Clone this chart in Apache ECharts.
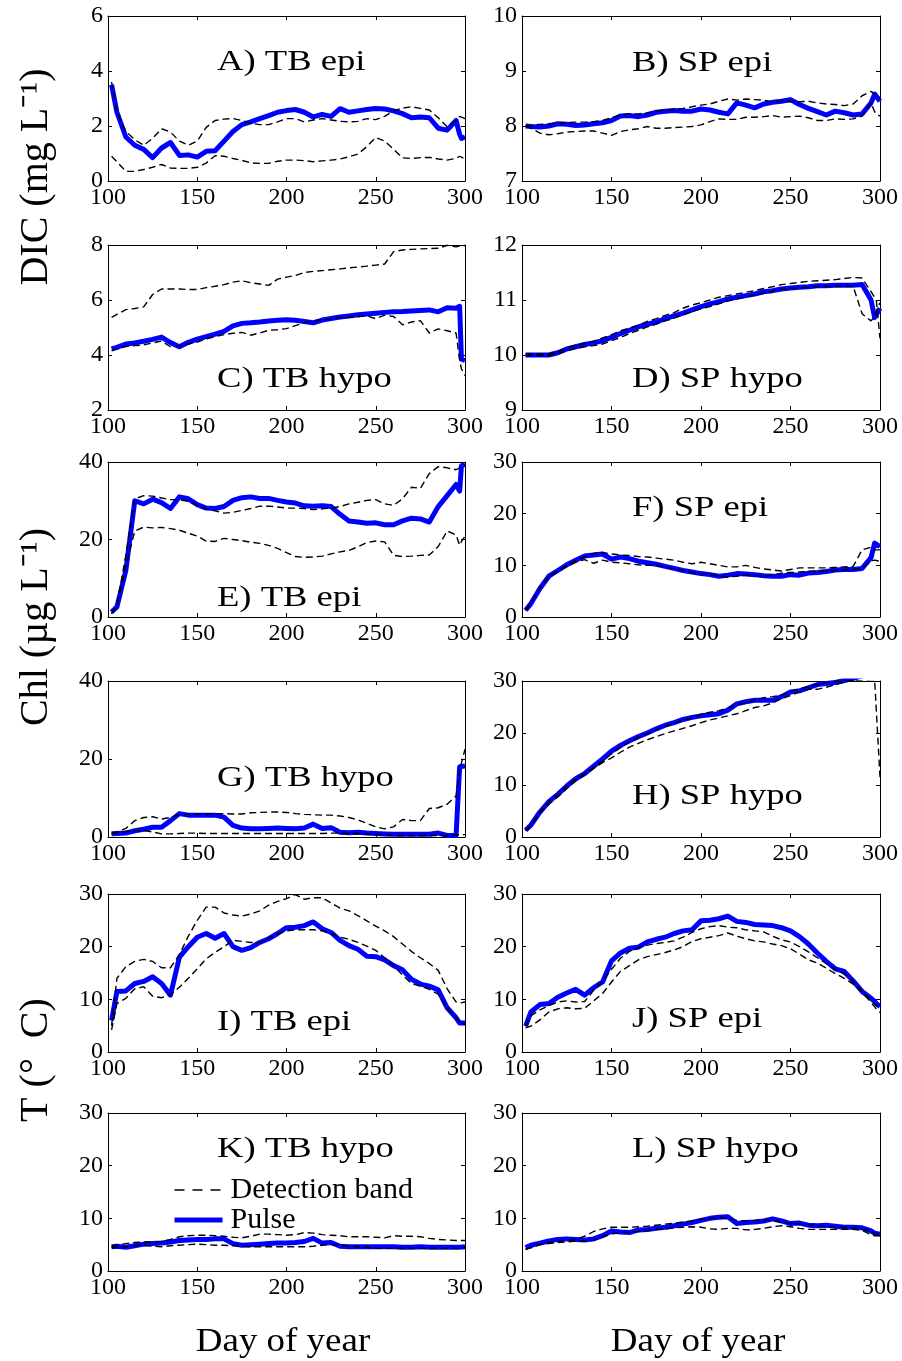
<!DOCTYPE html>
<html>
<head>
<meta charset="utf-8">
<script src="https://cdn.jsdelivr.net/npm/echarts@6/dist/echarts.min.js"></script>
<style>
  html, body { margin: 0; padding: 0; background: #fff; }
  #chart { width: 902px; height: 1361px; }
</style>
</head>
<body>
<div id="chart"></div>
<script>
const FONT = '"Liberation Serif", "Times New Roman", serif';

// day of year, shared by every series
const days = [102, 105, 110, 115, 120, 125, 130, 135, 140, 145, 150, 155, 160, 165, 170, 175, 180, 185, 190, 195,
  200, 205, 210, 215, 220, 225, 230, 235, 240, 245, 250, 255, 260, 265, 270, 275, 280, 285, 290, 295, 297, 298, 300];

// A) TB epi, DIC
const aPulse = [3.5, 2.5, 1.6, 1.3, 1.15, 0.85, 1.2, 1.4, 0.93, 0.95, 0.87, 1.08, 1.1, 1.45, 1.8, 2.05, 2.15, 2.27, 2.38, 2.5,
  2.56, 2.6, 2.5, 2.33, 2.42, 2.35, 2.63, 2.5, 2.55, 2.6, 2.64, 2.62, 2.55, 2.45, 2.3, 2.33, 2.3, 1.92, 1.85, 2.2, 1.7, 1.55, 1.6];
const aUpper = [3.6, 2.5, 1.8, 1.5, 1.3, 1.55, 1.9, 1.78, 1.45, 1.3, 1.45, 1.95, 2.2, 2.25, 2.27, 2.2, 2.1, 2.05, 2.05, 2.15,
  2.27, 2.27, 2.15, 2.22, 2.27, 2.22, 2.17, 2.15, 2.17, 2.27, 2.23, 2.35, 2.55, 2.65, 2.7, 2.64, 2.58, 2.3, 1.97, 2.2, 2.35, 2.4, 2.27];
const aLower = [0.9, 0.7, 0.35, 0.35, 0.42, 0.5, 0.6, 0.47, 0.46, 0.46, 0.5, 0.65, 0.92, 0.9, 0.82, 0.75, 0.66, 0.64, 0.64, 0.72,
  0.76, 0.76, 0.74, 0.7, 0.73, 0.76, 0.8, 0.88, 0.98, 1.25, 1.58, 1.45, 1.15, 0.84, 0.82, 0.85, 0.86, 0.8, 0.76, 0.82, 0.9, 0.92, 0.8];

// B) SP epi, DIC
const bPulse = [8.0, 7.99, 7.98, 8.0, 8.04, 8.03, 8.01, 8.02, 8.04, 8.06, 8.1, 8.18, 8.19, 8.17, 8.2, 8.25, 8.27, 8.28, 8.27, 8.27,
  8.31, 8.29, 8.25, 8.22, 8.42, 8.38, 8.33, 8.4, 8.43, 8.45, 8.48, 8.39, 8.32, 8.26, 8.2, 8.27, 8.24, 8.2, 8.22, 8.42, 8.58, 8.55, 8.45];
const bUpper = [8.0, 8.01, 8.03, 8.04, 8.05, 8.06, 8.07, 8.07, 8.08, 8.1, 8.15, 8.2, 8.22, 8.22, 8.24, 8.27, 8.29, 8.3, 8.32, 8.35,
  8.38, 8.4, 8.45, 8.49, 8.47, 8.49, 8.48, 8.47, 8.44, 8.45, 8.44, 8.44, 8.45, 8.42, 8.4, 8.39, 8.37, 8.4, 8.55, 8.63, 8.58, 8.55, 8.52];
const bLower = [8.0, 7.96, 7.87, 7.84, 7.86, 7.89, 7.9, 7.91, 7.91, 7.87, 7.83, 7.9, 7.93, 7.95, 7.99, 7.96, 7.96, 7.97, 7.98, 7.99,
  8.02, 8.08, 8.13, 8.12, 8.12, 8.16, 8.16, 8.17, 8.19, 8.16, 8.17, 8.18, 8.15, 8.1, 8.1, 8.13, 8.12, 8.13, 8.18, 8.42, 8.26, 8.22, 8.18];

// C) TB hypo, DIC
const cPulse = [4.22, 4.28, 4.4, 4.44, 4.5, 4.57, 4.65, 4.45, 4.3, 4.46, 4.58, 4.67, 4.76, 4.86, 5.06, 5.15, 5.17, 5.2, 5.24, 5.26,
  5.28, 5.26, 5.22, 5.17, 5.27, 5.33, 5.38, 5.42, 5.46, 5.49, 5.52, 5.55, 5.57, 5.58, 5.6, 5.62, 5.64, 5.57, 5.72, 5.7, 5.77, 3.85, 3.8];
const cUpper = [5.37, 5.48, 5.65, 5.69, 5.75, 6.2, 6.4, 6.4, 6.4, 6.38, 6.38, 6.45, 6.5, 6.56, 6.65, 6.7, 6.63, 6.58, 6.53, 6.76,
  6.83, 6.89, 7.0, 7.04, 7.07, 7.1, 7.13, 7.17, 7.2, 7.23, 7.27, 7.31, 7.76, 7.82, 7.84, 7.86, 7.87, 7.88, 7.99, 7.93, 7.96, 7.97, 7.98];
const cLower = [4.15, 4.22, 4.31, 4.34, 4.37, 4.44, 4.51, 4.3, 4.33, 4.4, 4.47, 4.58, 4.67, 4.74, 4.79, 4.82, 4.72, 4.8, 4.9, 4.92,
  4.96, 5.07, 5.17, 5.25, 5.28, 5.31, 5.35, 5.37, 5.39, 5.42, 5.32, 5.45, 5.4, 5.1, 5.2, 5.25, 4.8, 4.95, 4.88, 4.8, 3.8, 3.5, 3.25];

// D) SP hypo, DIC
const dPulse = [10.0, 10.0, 10.0, 10.0, 10.04, 10.11, 10.15, 10.19, 10.22, 10.26, 10.32, 10.39, 10.45, 10.51, 10.56, 10.6, 10.66, 10.71, 10.76, 10.82,
  10.88, 10.93, 10.97, 11.02, 11.05, 11.08, 11.11, 11.15, 11.17, 11.2, 11.22, 11.23, 11.24, 11.26, 11.26, 11.27, 11.27, 11.27, 11.28, 11.0, 10.68, 10.65, 10.85];
const dUpper = [10.02, 10.02, 10.02, 10.02, 10.06, 10.13, 10.18, 10.21, 10.25, 10.31, 10.37, 10.44, 10.49, 10.54, 10.61, 10.66, 10.72, 10.77, 10.85, 10.91,
  10.95, 11.0, 11.05, 11.08, 11.11, 11.14, 11.17, 11.21, 11.24, 11.28, 11.3, 11.32, 11.34, 11.35, 11.36, 11.37, 11.39, 11.41, 11.4, 11.15, 11.05, 10.98, 10.3];
const dLower = [9.99, 9.99, 9.99, 9.99, 10.02, 10.08, 10.12, 10.15, 10.17, 10.2, 10.26, 10.32, 10.39, 10.45, 10.51, 10.56, 10.62, 10.67, 10.73, 10.79,
  10.84, 10.88, 10.93, 10.98, 11.02, 11.05, 11.09, 11.12, 11.16, 11.19, 11.21, 11.22, 11.23, 11.24, 11.25, 11.25, 11.25, 11.25, 10.75, 10.62, 10.7, 10.8, 10.95];

// E) TB epi, Chl
const ePulse = [1.3, 2.6, 12, 30, 29.2, 30.4, 29.5, 28, 31, 30.5, 29, 28.1, 28, 28.5, 30.1, 30.8, 31, 30.6, 30.6, 30.1,
  29.7, 29.4, 28.7, 28.6, 28.7, 28.5, 26.5, 24.8, 24.5, 24.2, 24.3, 23.8, 23.8, 24.8, 25.5, 25.3, 24.5, 28.5, 31.3, 34.2, 32.5, 39, 39.4];
const eUpper = [0.9, 3, 16, 30.5, 31.3, 31.2, 30.7, 30.3, 30.3, 29.8, 28.8, 27.9, 27.4, 26.8, 27, 27.5, 28.0, 28.6, 28.6, 28.4,
  28.1, 28.1, 28, 27.7, 27.9, 28.1, 28.5, 29.2, 29.6, 30.1, 30.3, 29.2, 28.8, 30.5, 33.5, 33.2, 37, 38.8, 38.5, 38, 38.5, 38.8, 39];
const eLower = [0.9, 3, 13, 22.2, 23.2, 23, 23.1, 22.8, 22.4, 21.6, 20.9, 19.6, 19.5, 20.3, 20.0, 19.7, 19.3, 19, 18.5, 17.7,
  16.6, 15.6, 15.4, 15.5, 15.7, 16.3, 16.8, 17.2, 18.1, 19.2, 19.6, 19.4, 15.9, 15.6, 15.7, 15.9, 16, 18.2, 22.2, 21.2, 18.5, 19.5, 20.8];

// F) SP epi, Chl
const fPulse = [1.3, 2.6, 5.5, 7.9, 9.0, 10.1, 11.0, 11.8, 12.0, 12.2, 11.2, 11.6, 11.3, 10.8, 10.5, 10.2, 9.8, 9.4, 9.0, 8.7,
  8.4, 8.2, 7.9, 8.1, 8.4, 8.3, 8.2, 8.0, 7.9, 7.9, 8.2, 8.1, 8.5, 8.6, 8.8, 9.1, 9.2, 9.2, 9.4, 11.5, 14.3, 14.0, 13.6];
const fUpper = [1.3, 2.8, 5.6, 7.9, 9.0, 10.0, 10.9, 11.6, 12.3, 12.5, 12.2, 12.0, 11.9, 11.7, 11.6, 11.4, 11.2, 11.0, 10.6, 10.3,
  10.6, 10.3, 10.0, 9.7, 9.7, 10.0, 9.6, 9.3, 9.1, 8.9, 9.2, 9.5, 9.5, 9.5, 9.5, 9.6, 9.7, 9.8, 13.0, 13.5, 13.0, 13.0, 13.0];
const fLower = [1.3, 2.8, 5.6, 7.8, 8.9, 9.8, 10.6, 11.1, 10.4, 11.0, 10.6, 10.5, 10.3, 10.1, 10.0, 10.0, 9.6, 9.3, 9.0, 8.6,
  8.4, 8.2, 7.9, 7.8, 7.9, 8.1, 8.0, 7.9, 8.1, 8.5, 8.6, 8.7, 8.8, 8.9, 8.9, 9.0, 9.1, 9.2, 9.4, 10.9, 11.0, 10.9, 10.8];

// G) TB hypo, Chl
const gPulse = [0.85, 0.9, 1.0, 1.6, 2.0, 2.5, 2.5, 4.2, 6.0, 5.6, 5.6, 5.6, 5.6, 5.1, 3.0, 2.3, 2.1, 2.1, 2.2, 2.3,
  2.2, 2.1, 2.3, 3.3, 2.2, 2.4, 1.2, 1.1, 1.2, 1.0, 0.9, 0.8, 0.7, 0.7, 0.7, 0.7, 0.7, 1.0, 0.4, 0.4, 18.0, 18.2, 18.2];
const gUpper = [0.9, 1.3, 2.2, 4.2, 5.0, 5.2, 4.6, 5.0, 5.7, 5.8, 5.8, 5.9, 6.0, 6.0, 5.9, 5.9, 6.2, 6.3, 6.4, 6.4,
  6.3, 6.0, 5.8, 5.7, 5.6, 5.6, 5.4, 5.0, 4.4, 3.5, 2.6, 2.1, 2.6, 4.5, 4.2, 4.2, 7.3, 7.5, 8.4, 10.5, 17.0, 19.0, 22.5];
const gLower = [0.9, 1.1, 1.4, 1.6, 1.7, 1.3, 0.8, 0.8, 0.9, 1.0, 1.0, 0.9, 0.9, 0.9, 0.9, 0.9, 0.9, 0.9, 0.9, 0.9,
  0.9, 0.9, 0.9, 0.9, 0.9, 1.0, 1.0, 0.9, 0.9, 0.8, 0.7, 0.6, 0.4, 0.4, 0.4, 0.4, 0.4, 0.4, 0.4, 0.5, 0.6, 0.6, 0.6];

// H) SP hypo, Chl
const hPulse = [1.3, 2.3, 4.8, 6.8, 8.2, 9.8, 11.2, 12.2, 13.6, 15.0, 16.5, 17.6, 18.5, 19.3, 20.0, 20.8, 21.5, 22.0, 22.6, 23.0,
  23.3, 23.5, 23.7, 24.4, 25.6, 26.0, 26.3, 26.3, 26.3, 27.0, 27.9, 28.1, 28.7, 29.3, 29.5, 29.7, 30.1, 30.5, 31, 31.5, 31.7, 31.8, 32];
const hUpper = [1.2, 2.3, 4.8, 6.8, 8.3, 9.8, 11.1, 12.2, 13.4, 14.6, 16.0, 17.2, 18.3, 19.1, 19.9, 20.6, 21.3, 21.9, 22.5, 22.9,
  23.6, 24.0, 24.3, 24.8, 25.4, 25.8, 26.3, 26.8, 27.0, 27.3, 28.0, 28.5, 28.9, 29.3, 29.7, 30.0, 30.0, 30.1, 30.2, 30.3, 30.3, 30.3, 11.5];
const hLower = [1.2, 2.2, 4.6, 6.3, 7.7, 9.3, 10.8, 12.0, 13.2, 14.3, 15.2, 16.3, 17.3, 18.0, 18.7, 19.3, 19.9, 20.4, 20.9, 21.4,
  22.0, 22.5, 22.9, 23.3, 23.7, 24.3, 24.9, 25.2, 25.8, 26.6, 27.2, 27.9, 28.4, 28.4, 28.8, 29.3, 29.8, 30.2, 30.5, 30.8, 31, 31, 31];

// I) TB epi, T
const iPulse = [6.0, 11.5, 11.6, 13.0, 13.4, 14.3, 13.0, 10.8, 18.0, 20.0, 21.8, 22.5, 21.6, 22.5, 20.0, 19.3, 19.8, 20.8, 21.5, 22.5,
  23.6, 23.7, 24.0, 24.7, 23.4, 22.7, 21.2, 20.2, 19.5, 18.2, 18.1, 17.5, 16.4, 15.6, 13.8, 12.9, 12.5, 11.8, 8.4, 6.5, 5.5, 5.2, 5.5];
const iUpper = [5.0, 14.0, 16.2, 17.2, 17.6, 17.2, 16.0, 16.0, 18.5, 22.0, 25.0, 27.5, 27.5, 26.4, 26.0, 25.8, 26.2, 26.8, 27.9, 28.6,
  29.1, 29.9, 29.0, 29.3, 29.3, 28.3, 27.3, 26.8, 25.9, 24.9, 23.9, 23.0, 21.9, 20.5, 19.1, 17.9, 16.8, 15.5, 12.0, 9.5, 9.3, 9.3, 9.5];
const iLower = [4.2, 9.2, 10.2, 12.0, 12.4, 10.6, 10.3, 10.9, 12.3, 14.0, 15.8, 17.7, 18.9, 20.0, 21.2, 21.0, 20.8, 20.8, 21.6, 22.4,
  23.0, 23.2, 23.2, 23.2, 23.0, 22.5, 21.8, 21.4, 20.8, 20.1, 19.3, 17.9, 16.4, 14.6, 13.0, 12.5, 11.9, 11.0, 8.2, 6.5, 5.8, 5.6, 5.2];

// J) SP epi, T
const jPulse = [4.9, 7.6, 9.0, 9.2, 10.4, 11.2, 11.9, 10.8, 12.2, 13.3, 17.3, 18.8, 19.7, 19.9, 20.9, 21.4, 21.8, 22.5, 23.0, 23.2,
  24.9, 25.0, 25.3, 25.8, 24.8, 24.6, 24.2, 24.1, 24.0, 23.6, 23.0, 21.9, 20.5, 18.8, 17.2, 15.8, 15.3, 13.5, 11.5, 10.2, 9.6, 9.2, 8.6];
const jUpper = [4.9, 6.9, 8.0, 8.8, 9.5, 9.7, 9.5, 9.6, 11.7, 13.5, 15.7, 17.8, 19.1, 19.8, 20.3, 20.6, 20.8, 21.1, 21.8, 22.7,
  23.4, 23.8, 24.0, 23.7, 23.6, 23.2, 23.0, 22.8, 22.0, 21.3, 20.9, 20.0, 19.0, 17.9, 16.8, 15.7, 14.8, 13.4, 11.7, 9.8, 9.2, 8.9, 8.1];
const jLower = [4.6, 4.9, 6.1, 7.6, 8.2, 8.4, 8.2, 8.3, 9.7, 11.1, 13.3, 15.3, 16.4, 17.5, 18.1, 18.5, 18.9, 19.4, 20.0, 21.0,
  21.5, 21.8, 22.1, 22.6, 22.0, 21.5, 21.1, 20.9, 20.5, 20.2, 19.6, 18.6, 17.5, 16.9, 15.9, 14.9, 14.0, 12.9, 11.4, 9.4, 8.6, 8.1, 7.5];

// K) TB hypo, T
const kPulse = [4.6, 4.7, 4.5, 4.8, 5.1, 5.2, 5.3, 5.5, 5.8, 5.9, 6.0, 6.0, 6.1, 6.1, 5.2, 4.9, 5.0, 5.1, 5.2, 5.3,
  5.3, 5.4, 5.6, 6.2, 5.3, 5.4, 4.7, 4.6, 4.6, 4.6, 4.6, 4.6, 4.6, 4.5, 4.5, 4.6, 4.5, 4.5, 4.5, 4.5, 4.5, 4.5, 4.6];
const kUpper = [4.6, 4.9, 5.2, 5.4, 5.5, 5.5, 5.6, 6.0, 6.5, 6.7, 6.8, 6.8, 6.7, 6.6, 6.4, 6.3, 6.6, 7.0, 7.0, 6.9,
  6.8, 6.9, 7.3, 7.2, 6.9, 6.8, 6.7, 6.5, 6.5, 6.5, 6.4, 6.3, 6.7, 6.6, 6.6, 6.5, 6.2, 6.0, 5.9, 5.8, 5.8, 5.8, 5.8];
const kLower = [4.45, 4.5, 4.6, 4.8, 4.9, 4.7, 4.6, 4.8, 4.9, 5.0, 5.1, 5.0, 4.9, 4.9, 4.8, 4.7, 4.6, 4.6, 4.6, 4.6,
  4.6, 4.6, 4.6, 4.7, 4.9, 5.0, 4.9, 4.7, 4.6, 4.5, 4.3, 4.3, 4.3, 4.3, 4.3, 4.3, 4.3, 4.3, 4.3, 4.3, 4.3, 4.3, 4.5];

// L) SP hypo, T
const lPulse = [4.45, 4.9, 5.3, 5.7, 6.0, 6.1, 6.0, 5.9, 6.1, 6.7, 7.6, 7.4, 7.3, 7.8, 7.9, 8.1, 8.3, 8.6, 8.9, 9.2,
  9.6, 10.0, 10.2, 10.3, 9.0, 9.2, 9.3, 9.5, 9.9, 9.5, 9.0, 9.1, 8.7, 8.6, 8.7, 8.5, 8.3, 8.3, 8.2, 7.6, 7.2, 7.0, 7.0];
const lUpper = [4.1, 4.5, 5.1, 5.4, 5.6, 5.8, 6.0, 6.6, 7.5, 8.0, 8.3, 8.3, 8.3, 8.4, 8.5, 8.7, 8.9, 9.1, 9.3, 9.5,
  9.8, 10.0, 10.2, 10.0, 9.6, 9.5, 9.6, 9.7, 9.6, 9.3, 9.0, 8.9, 8.8, 8.6, 8.5, 8.4, 8.3, 8.2, 8.0, 7.5, 7.1, 7.0, 6.9];
const lLower = [4.1, 4.4, 5.0, 5.2, 5.4, 5.5, 5.7, 5.7, 5.8, 6.5, 7.0, 7.3, 7.4, 7.5, 7.7, 7.9, 8.0, 8.2, 8.3, 8.4,
  8.3, 8.0, 7.9, 8.1, 8.1, 7.8, 7.9, 8.1, 8.4, 8.6, 8.4, 8.1, 7.9, 7.9, 7.9, 7.9, 7.9, 7.9, 7.7, 6.9, 6.7, 6.7, 6.7];

const panelTitles = ['A) TB epi', 'B) SP epi', 'C) TB hypo', 'D) SP hypo', 'E) TB epi', 'F) SP epi',
  'G) TB hypo', 'H) SP hypo', 'I) TB epi', 'J) SP epi', 'K) TB hypo', 'L) SP hypo'];
const yMin = [0, 7, 2, 9, 0, 0, 0, 0, 0, 0, 0, 0];
const yMax = [6, 10, 8, 12, 40, 30, 40, 30, 30, 30, 30, 30];
const yStep = [2, 1, 2, 1, 20, 10, 20, 10, 10, 10, 10, 10];
const xMin = 100, xMax = 300, xStep = 50;
const pulseData = [aPulse, bPulse, cPulse, dPulse, ePulse, fPulse, gPulse, hPulse, iPulse, jPulse, kPulse, lPulse];
const upperData = [aUpper, bUpper, cUpper, dUpper, eUpper, fUpper, gUpper, hUpper, iUpper, jUpper, kUpper, lUpper];
const lowerData = [aLower, bLower, cLower, dLower, eLower, fLower, gLower, hLower, iLower, jLower, kLower, lLower];

// layout (pixels)
const rowTop = [16, 245, 462, 681, 894, 1113];
const rowBottom = [181, 410, 617, 837, 1052, 1271];
const colLeft = [108, 522];
const colRight = [465, 880];
const titlePos = [[217, 62], [632, 63], [217, 379], [632, 379], [217, 598], [632, 508],
  [217, 778], [632, 796], [217, 1022], [632, 1019], [217, 1149], [632, 1149]];

const chart = echarts.init(document.getElementById('chart'));

const grids = [], xAxes = [], yAxes = [], series = [], graphics = [];
const pairs = (vals) => days.map((d, k) => [d, vals[k]]);

const axisLine = { show: true, onZero: false, lineStyle: { color: '#000', width: 1 } };
const axisTick = { show: true, inside: true, length: 4, lineStyle: { color: '#000', width: 1 } };
const labelStyle = { color: '#000', fontFamily: FONT, fontSize: 24 };

panelTitles.forEach((title, i) => {
  const row = Math.floor(i / 2), col = i % 2;
  grids.push({
    left: colLeft[col], top: rowTop[row],
    width: colRight[col] - colLeft[col], height: rowBottom[row] - rowTop[row]
  });
  ['bottom', 'top'].forEach((pos) => xAxes.push({
    type: 'value', gridIndex: i, position: pos, min: xMin, max: xMax, interval: xStep,
    axisLine, axisTick, splitLine: { show: false },
    axisLabel: pos === 'bottom' ? { ...labelStyle, margin: 5, showMinLabel: true, showMaxLabel: true } : { show: false }
  }));
  ['left', 'right'].forEach((pos) => yAxes.push({
    type: 'value', gridIndex: i, position: pos, min: yMin[i], max: yMax[i], interval: yStep[i],
    axisLine, axisTick, splitLine: { show: false },
    axisLabel: pos === 'left' ? { ...labelStyle, margin: 5, showMinLabel: true, showMaxLabel: true } : { show: false }
  }));
  series.push({
    name: 'Pulse', type: 'line', xAxisIndex: 2 * i, yAxisIndex: 2 * i,
    data: pairs(pulseData[i]), symbol: 'none', z: 2,
    lineStyle: { color: '#0000ff', width: 5, join: 'round' }, itemStyle: { color: '#0000ff' }
  });
  [upperData[i], lowerData[i]].forEach((vals) => series.push({
    name: 'Detection band', type: 'line', xAxisIndex: 2 * i, yAxisIndex: 2 * i,
    data: pairs(vals), symbol: 'none', z: 3,
    lineStyle: { color: '#000', width: 1.4, type: [7, 4] }, itemStyle: { color: '#000' }
  }));
  graphics.push({
    type: 'text', x: titlePos[i][0], y: titlePos[i][1], scaleX: 1.22, z: 10,
    style: { text: title, fill: '#000', font: '30px ' + FONT, textAlign: 'left', textVerticalAlign: 'middle' }
  });
});

// axis names
[['DIC (mg L\u207B\u00B9)', 177], ['Chl (\u00B5g L\u207B\u00B9)', 627], ['T (\u00B0  C)', 1060]].forEach(([txt, y]) => {
  graphics.push({
    type: 'text', x: 36, y: y, rotation: Math.PI / 2, z: 10,
    style: { text: txt, fill: '#000', font: '40px ' + FONT, textAlign: 'center', textVerticalAlign: 'middle' }
  });
});
[283, 698].forEach((x) => graphics.push({
  type: 'text', x: x, y: 1342, scaleX: 1.12, z: 10,
  style: { text: 'Day of year', fill: '#000', font: '33px ' + FONT, textAlign: 'center', textVerticalAlign: 'middle' }
}));

chart.setOption({
  animation: false,
  backgroundColor: '#fff',
  grid: grids,
  xAxis: xAxes,
  yAxis: yAxes,
  series: series,
  legend: {
    data: [
      { name: 'Detection band', lineStyle: { color: '#000', width: 1.6, type: [10, 8] } },
      { name: 'Pulse', lineStyle: { color: '#0000ff', width: 5 } }
    ],
    orient: 'vertical', left: 167, top: 1170,
    itemWidth: 48, itemHeight: 14, itemGap: 0, selectedMode: false,
    itemStyle: { opacity: 0 },
    textStyle: { color: '#000', fontFamily: FONT, fontSize: 30, lineHeight: 29, padding: [0, 0, 0, 3] }
  },
  graphic: graphics
});
</script>
</body>
</html>
